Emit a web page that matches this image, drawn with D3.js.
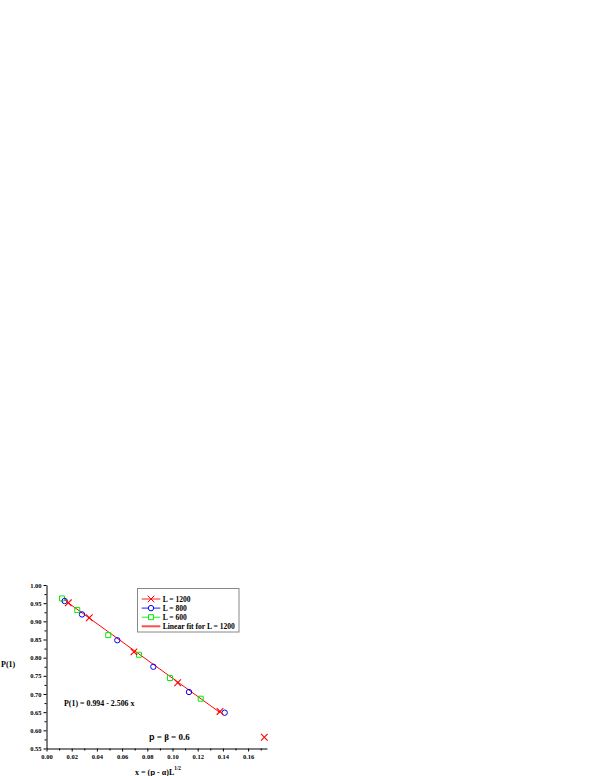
<!DOCTYPE html>
<html>
  <head>
    <style>
      body { margin: 0; background: #fff; }
      svg text { font-family: "Liberation Serif", "Times New Roman", serif; font-weight: bold; }
      .sans { font-family: "Liberation Sans", Arial, sans-serif; }
      .axis path, .axis line { stroke: #000; stroke-width: 1; }
    </style>
  </head>
  <body>
    <div id="main-viz"></div>
    <script src="https://d3js.org/d3.v7.min.js"></script>
    <script>

      // series
      var x1200 = [0.0173, 0.034, 0.0694, 0.1041, 0.1377, 0.1729];
      var p1200 = [0.951, 0.910, 0.816, 0.731, 0.652, 0.581];
      var x800 = [0.0144, 0.0282, 0.0562, 0.0848, 0.1131, 0.1414];
      var p800 = [0.956, 0.919, 0.848, 0.775, 0.7055, 0.6485];
      var x600 = [0.0123, 0.0244, 0.049, 0.0734, 0.098, 0.1224];
      var p600 = [0.963, 0.931, 0.862, 0.808, 0.744, 0.687];

      // linear fit P(1) = a + b x, drawn over the first five L = 1200 points
      var fitA = 0.994, fitB = -2.506;
      var fitRange = [0.0173, 0.1377];

      var xTicks = [0, 0.02, 0.04, 0.06, 0.08, 0.10, 0.12, 0.14, 0.16];
      var xMinor = [0.01, 0.03, 0.05, 0.07, 0.09, 0.11, 0.13, 0.15, 0.17];
      var yTicks = [0.55, 0.60, 0.65, 0.70, 0.75, 0.80, 0.85, 0.90, 0.95, 1.00];
      var yMinor = [0.575, 0.625, 0.675, 0.725, 0.775, 0.825, 0.875, 0.925, 0.975];

      var legendLabels = ["L = 1200", "L = 800", "L = 600", "Linear fit for L = 1200"];

      var margin = {top: 585, left: 46.5},
        width = 220.5,
        height = 163.5;

      var svg = d3.select("#main-viz")
        .append("svg")
          .attr("width", 599)
          .attr("height", 776);

      var x = d3.scaleLinear()
        .domain([0, 0.175])
        .range([margin.left, margin.left + width]);

      var y = d3.scaleLinear()
        .domain([0.55, 1.0])
        .range([margin.top + height, margin.top]);

      // axes
      svg.append("g")
        .attr("class", "axis")
        .attr("transform", "translate(0," + (margin.top + height) + ")")
        .call(d3.axisBottom(x).tickValues(xTicks).tickFormat(d3.format(".2f")).tickSize(3).tickSizeOuter(0).tickPadding(3));
      svg.append("g")
        .attr("class", "axis")
        .attr("transform", "translate(0," + (margin.top + height) + ")")
        .call(d3.axisBottom(x).tickValues(xMinor).tickFormat("").tickSize(2).tickSizeOuter(0))
        .select(".domain").remove();

      svg.append("g")
        .attr("class", "axis")
        .attr("transform", "translate(" + margin.left + ",0)")
        .call(d3.axisLeft(y).tickValues(yTicks).tickFormat(d3.format(".2f")).tickSize(3).tickSizeOuter(0).tickPadding(2));
      svg.append("g")
        .attr("class", "axis")
        .attr("transform", "translate(" + margin.left + ",0)")
        .call(d3.axisLeft(y).tickValues(yMinor).tickFormat("").tickSize(2).tickSizeOuter(0))
        .select(".domain").remove();

      svg.selectAll(".axis text")
        .style("font-size", "6.5px")
        .style("font-family", "'Liberation Serif', serif")
        .style("font-weight", "bold");

      // axis titles
      svg.append("text")
        .attr("x", 1)
        .attr("y", 667)
        .style("font-size", "8px")
        .text("P(1)");

      var xt = svg.append("text")
        .attr("x", 158)
        .attr("y", 774.5)
        .attr("text-anchor", "middle")
        .style("font-size", "8px");
      xt.append("tspan").text("x = (");
      xt.append("tspan").attr("class", "sans").text("p");
      xt.append("tspan").text(" - α)L");
      xt.append("tspan").attr("dy", -5).style("font-size", "5.3px").text("1/2");

      // fit line
      svg.append("line")
        .attr("x1", x(fitRange[0]))
        .attr("y1", y(fitA + fitB * fitRange[0]))
        .attr("x2", x(fitRange[1]))
        .attr("y2", y(fitA + fitB * fitRange[1]))
        .style("stroke", "#ff0000")
        .style("stroke-width", 1);

      // markers
      var crossType = {
        draw: function (ctx, size) {
          var r = Math.sqrt(size) / 2;
          ctx.moveTo(-r, -r); ctx.lineTo(r, r);
          ctx.moveTo(r, -r); ctx.lineTo(-r, r);
        }
      };
      var cross = d3.symbol().type(crossType).size(44);
      var circ = d3.symbol().type(d3.symbolCircle).size(23);
      var sq = d3.symbol().type(d3.symbolSquare).size(25);

      svg.append("g")
        .selectAll("path")
        .data(x600.map(function (d, i) { return [d, p600[i]]; }))
        .enter()
        .append("path")
          .attr("d", sq)
          .attr("transform", function (d) { return "translate(" + x(d[0]) + "," + y(d[1]) + ")"; })
          .style("fill", "none")
          .style("stroke", "#00ee00")
          .style("stroke-width", 1);

      svg.append("g")
        .selectAll("path")
        .data(x800.map(function (d, i) { return [d, p800[i]]; }))
        .enter()
        .append("path")
          .attr("d", circ)
          .attr("transform", function (d) { return "translate(" + x(d[0]) + "," + y(d[1]) + ")"; })
          .style("fill", "none")
          .style("stroke", "#0000ff")
          .style("stroke-width", 1);

      svg.append("g")
        .selectAll("path")
        .data(x1200.map(function (d, i) { return [d, p1200[i]]; }))
        .enter()
        .append("path")
          .attr("d", cross)
          .attr("transform", function (d) { return "translate(" + x(d[0]) + "," + y(d[1]) + ")"; })
          .style("fill", "none")
          .style("stroke", "#ff0000")
          .style("stroke-width", 1.1);

      // annotations
      svg.append("text")
        .attr("x", 64)
        .attr("y", 706)
        .style("font-size", "7.9px")
        .text("P(1) = 0.994 - 2.506 x");

      var pb = svg.append("text")
        .attr("x", 149)
        .attr("y", 739.5)
        .style("font-size", "9px");
      pb.append("tspan").attr("class", "sans").text("p");
      pb.append("tspan").text(" = β = 0.6");

      // legend
      var lg = svg.append("g").attr("transform", "translate(137,588)");
      lg.append("rect")
        .attr("x", 0.5).attr("y", 0.5)
        .attr("width", 101.5).attr("height", 43.5)
        .style("fill", "#fff")
        .style("stroke", "#888")
        .style("stroke-width", 1);

      var legendColors = ["#ff0000", "#0000ff", "#00ee00", "#ff4d4d"];
      var legendSyms = [cross, circ, sq, null];

      legendLabels.forEach(function (lab, i) {
        var row = lg.append("g").attr("transform", "translate(0," + (11 + i * 9.1) + ")");
        row.append("line")
          .attr("x1", 4.7).attr("x2", 23.3)
          .attr("y1", 0).attr("y2", 0)
          .style("stroke", legendColors[i])
          .style("stroke-width", i == 3 ? 2 : 0.9);
        if (legendSyms[i]) {
          row.append("path")
            .attr("d", legendSyms[i])
            .attr("transform", "translate(14,0)")
            .style("fill", i == 0 ? "none" : "#fff")
            .style("stroke", legendColors[i])
            .style("stroke-width", 1);
        }
        row.append("text")
          .attr("x", 25.7)
          .attr("y", 2.7)
          .style("font-size", "7.6px")
          .text(lab);
      });

    </script>
  </body>
</html>
